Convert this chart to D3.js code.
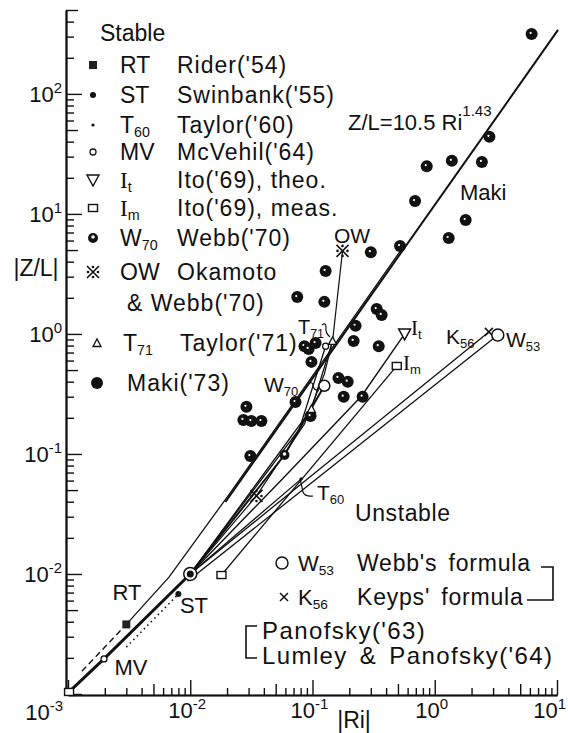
<!DOCTYPE html>
<html>
<head>
<meta charset="utf-8">
<script src="https://cdn.jsdelivr.net/npm/d3@7"></script>
<style>
  body { margin: 0; background: #fff; }
  svg text { font-family: "Liberation Sans", Arial, sans-serif; fill: #111; }
</style>
</head>
<body>
<div id="chart"></div>
<script>
// ---- data (Ri, |Z/L|) ----
const makiRi = [6.2, 2.8, 0.86, 1.38, 2.43, 0.69, 1.79, 1.3, 0.52, 0.30, 0.128, 0.075, 0.125, 0.335, 0.368,
  0.225, 0.217, 0.348, 0.086, 0.106, 0.093, 0.098, 0.163, 0.194, 0.18, 0.257, 0.0726, 0.0964,
  0.0288, 0.0272, 0.0316, 0.0382, 0.031];
const makiZL = [316, 43.9, 25, 27.7, 27.1, 12.8, 8.9, 6.3, 5.4, 4.8, 3.35, 2.03, 1.85, 1.61, 1.44,
  1.17, 0.875, 0.79, 0.79, 0.84, 0.75, 0.585, 0.43, 0.40, 0.30, 0.30, 0.271, 0.207,
  0.247, 0.192, 0.188, 0.188, 0.096];

// Z/L = 10.5 Ri^1.43 fit, end points
const fitRi = [0.0194, 10.2];
const fitZL = [0.0398, 341];

const rtDashRi = [0.0013, 0.003];
const rtDashZL = [0.00155, 0.0038];
const rtRi = [0.003, 0.0067, 0.0211, 0.537];
const rtZL = [0.0038, 0.0094, 0.047, 5.1];
const neutralRi = [0.00102, 0.00197, 0.01];
const neutralZL = [0.00104, 0.00196, 0.01];
const stRi = [0.003, 0.008];
const stZL = [0.00246, 0.0068];
const w70Ri = [0.01, 0.059, 0.125];
const w70ZL = [0.01, 0.098, 0.37];
const t71Ri = [0.01, 0.098, 0.146];
const t71ZL = [0.01, 0.237, 0.875];
const mvRi = [0.01, 0.078, 0.128];
const mvZL = [0.01, 0.161, 0.79];
const owRi = [0.01, 0.0348, 0.086, 0.125, 0.146, 0.176];
const owZL = [0.01, 0.0447, 0.178, 0.464, 0.875, 4.92];
const itRi = [0.01, 0.0537, 0.252, 0.567];
const itZL = [0.01, 0.0585, 0.304, 1.0];
const imRi = [0.018, 0.489];
const imZL = [0.0098, 0.541];
const k56Ri = [0.01, 2.77];
const k56ZL = [0.01, 1.04];
const w53Ri = [0.0095, 3.28];
const w53ZL = [0.0087, 0.98];
const t60Ri = [0.01, 0.081];
const t60ZL = [0.01, 0.062];

// single marks on the curves: [Ri, Z/L, kind]
const marks = [
  [0.003, 0.0038, 'rt'], [0.00197, 0.00196, 'mv'], [0.00102, 0.00104, 'im'],
  [0.01, 0.01, 'stc'], [0.008, 0.0068, 'st'],
  [0.018, 0.0098, 'im'], [0.489, 0.541, 'im'], [0.567, 1.0, 'it'],
  [2.77, 1.04, 'k56'], [3.28, 0.98, 'w53'],
  [0.176, 4.92, 'ow'], [0.0348, 0.0447, 'ow'],
  [0.146, 0.875, 't71'], [0.098, 0.237, 't71'], [0.128, 0.79, 'mv'],
  [0.125, 0.37, 'w70open'], [0.059, 0.098, 'w70'], [0.081, 0.062, 't60']
];

const xTickExp = ['-3', '-2', '-1', '0', '1'];
const yTickExp = ['-3', '-2', '-1', '0', '1', '2'];

const legendCodes = ['RT', 'ST', 'T|60', 'MV', 'I|t', 'I|m', 'W|70', 'OW', '', 'T|71', ''];
const legendNames = ["Rider('54)", "Swinbank('55)", "Taylor('60)", "McVehil('64)", "Ito('69), theo.",
  "Ito('69), meas.", "Webb('70)", 'Okamoto', "& Webb('70)", "Taylor('71)", "Maki('73)"];
const legendKinds = ['rt', 'st', 't60', 'mv', 'it', 'im', 'w70', 'ow', null, 't71', 'maki'];

// ---- setup ----
const W = 568, H = 733;
const svg = d3.select('#chart').append('svg')
  .attr('width', W).attr('height', H);

const x = d3.scaleLog().domain([1e-3, 1e1]).range([68, 557]);
const y = d3.scaleLog().domain([1e-3, 5e2]).range([694, 10]);

const xMajor = xTickExp.map(e => Math.pow(10, +e));
const yMajor = yTickExp.map(e => Math.pow(10, +e));
const minorOf = (majors, top) => majors.flatMap(m => [2, 3, 4, 6, 7, 8, 9].map(k => k * m)).filter(v => v < top);
const fiveOf = (majors, top) => majors.map(m => 5 * m).filter(v => v <= top);

// axes: ticks point inwards
function axisGroup(axis, transform) {
  const g = svg.append('g').attr('transform', transform).call(axis);
  g.selectAll('line').attr('stroke', '#111').attr('stroke-width', 1.4);
  g.select('.domain').attr('stroke', '#111').attr('stroke-width', 1.6);
  return g;
}
axisGroup(d3.axisRight(y).tickValues(yMajor).tickSize(16).tickSizeOuter(0).tickFormat(''), 'translate(66,0)');
axisGroup(d3.axisRight(y).tickValues(fiveOf(yMajor, 500)).tickSize(12).tickSizeOuter(0).tickFormat(''), 'translate(66,0)');
axisGroup(d3.axisRight(y).tickValues(minorOf(yMajor, 500)).tickSize(8).tickSizeOuter(0).tickFormat(''), 'translate(66,0)');
axisGroup(d3.axisTop(x).tickValues(xMajor).tickSize(15).tickSizeOuter(0).tickFormat(''), 'translate(0,695)');
axisGroup(d3.axisTop(x).tickValues(fiveOf(xMajor, 10)).tickSize(11).tickSizeOuter(0).tickFormat(''), 'translate(0,695)');
axisGroup(d3.axisTop(x).tickValues(minorOf(xMajor, 10)).tickSize(7).tickSizeOuter(0).tickFormat(''), 'translate(0,695)');

// tick labels as 10^n
function power(g, px, py, exp, anchor) {
  const t = g.append('text').attr('x', px).attr('y', py).attr('text-anchor', anchor)
    .style('font-size', '22px');
  t.append('tspan').text('10');
  t.append('tspan').attr('dy', -9).style('font-size', '15px').text(exp);
}
const lab = svg.append('g');
yMajor.forEach((v, i) => { if (i > 0) power(lab, 62, y(v) + 8, yTickExp[i], 'end'); });
xMajor.forEach((v, i) => {
  if (i === 0) power(lab, 63, 720, xTickExp[i], 'end');
  else if (i === xMajor.length - 1) power(lab, 566, 718, xTickExp[i], 'end');
  else power(lab, x(v) - 3, 718, xTickExp[i], 'middle');
});

svg.append('text').attr('x', 36).attr('y', 276).attr('text-anchor', 'middle')
  .style('font-size', '23px').text('|Z/L|');
svg.append('text').attr('x', 354).attr('y', 728).attr('text-anchor', 'middle')
  .style('font-size', '23px').text('|Ri|');

// ---- curves ----
const line = d3.line().x(d => x(d[0])).y(d => y(d[1]));
const zip = (a, b) => a.map((v, i) => [v, b[i]]);
const curves = [
  { d: zip(fitRi, fitZL), w: 2 },
  { d: zip(rtDashRi, rtDashZL), w: 1.4, dash: '6,4' },
  { d: zip(rtRi, rtZL), w: 1.3 },
  { d: zip(neutralRi, neutralZL), w: 3 },
  { d: zip(stRi, stZL), w: 1.6, dash: '1.5,3.5' },
  { d: zip(w70Ri, w70ZL), w: 2 },
  { d: zip(t71Ri, t71ZL), w: 1.3 },
  { d: zip(mvRi, mvZL), w: 1.3 },
  { d: zip(owRi, owZL), w: 1.2 },
  { d: zip(itRi, itZL), w: 1.4 },
  { d: zip(imRi, imZL), w: 1.3 },
  { d: zip(k56Ri, k56ZL), w: 1.3 },
  { d: zip(w53Ri, w53ZL), w: 1.3 },
  { d: zip(t60Ri, t60ZL), w: 1.3 }
];
svg.append('g').selectAll('path').data(curves).join('path')
  .attr('d', c => line(c.d))
  .attr('fill', 'none').attr('stroke', '#111')
  .attr('stroke-width', c => c.w)
  .attr('stroke-dasharray', c => c.dash || null);

// ---- markers ----
function mark(g, kind, cx, cy) {
  const s = g.append('g').attr('transform', `translate(${cx},${cy})`);
  const ink = '#111';
  switch (kind) {
    case 'rt': s.append('rect').attr('x', -4).attr('y', -4).attr('width', 8).attr('height', 8).attr('fill', '#222'); break;
    case 'st': s.append('circle').attr('r', 3).attr('fill', ink); break;
    case 't60': s.append('circle').attr('r', 1.6).attr('fill', ink); break;
    case 'mv': s.append('circle').attr('r', 3).attr('fill', '#fff').attr('stroke', ink).attr('stroke-width', 1.3); break;
    case 'it': s.append('path').attr('d', 'M-6,-5L6,-5L0,6Z').attr('fill', '#fff').attr('stroke', ink).attr('stroke-width', 1.4); break;
    case 'im': s.append('rect').attr('x', -4.5).attr('y', -3.5).attr('width', 9).attr('height', 7).attr('fill', '#fff').attr('stroke', ink).attr('stroke-width', 1.4); break;
    case 'w70':
      s.append('circle').attr('r', 5).attr('fill', ink);
      s.append('circle').attr('r', 1.8).attr('cy', -1).attr('fill', '#fff'); break;
    case 'w70open': s.append('circle').attr('r', 5.5).attr('fill', '#fff').attr('stroke', ink).attr('stroke-width', 1.5); break;
    case 'w53': s.append('circle').attr('r', 6).attr('fill', '#fff').attr('stroke', ink).attr('stroke-width', 1.5); break;
    case 'k56': s.append('path').attr('d', 'M-4,-4L4,4M-4,4L4,-4').attr('stroke', ink).attr('stroke-width', 1.5); break;
    case 't71': s.append('path').attr('d', 'M-4,3.5L4,3.5L0,-4Z').attr('fill', '#fff').attr('stroke', ink).attr('stroke-width', 1.3); break;
    case 'maki': s.append('circle').attr('r', 6).attr('fill', ink); break;
    case 'stc':
      s.append('circle').attr('r', 6.5).attr('fill', '#fff').attr('stroke', ink).attr('stroke-width', 1.5);
      s.append('circle').attr('r', 3.5).attr('fill', ink); break;
    case 'ow':
      s.append('path').attr('d', 'M-6,-6L6,6M-6,6L6,-6').attr('stroke', ink).attr('stroke-width', 1.6);
      [[0, -5], [0, 5], [-5, 0], [5, 0]].forEach(p => s.append('circle').attr('cx', p[0]).attr('cy', p[1]).attr('r', 1.3).attr('fill', ink));
      break;
  }
}
const mg = svg.append('g');
zip(makiRi, makiZL).forEach(p => {
  mark(mg, 'maki', x(p[0]), y(p[1]));
  mg.append('circle').attr('cx', x(p[0]) - 1).attr('cy', y(p[1]) - 1).attr('r', 1.1).attr('fill', '#fff');
});
marks.forEach(m => mark(mg, m[2], x(m[0]), y(m[1])));

// ---- texts in the plot ----
function sub(g, px, py, main, s, size, serif) {
  const t = g.append('text').attr('x', px).attr('y', py).style('font-size', size + 'px');
  const a = t.append('tspan').text(main);
  if (serif) a.style('font-family', '"Liberation Serif", serif');
  if (s) t.append('tspan').attr('dy', 4).style('font-size', (size * 0.62) + 'px').text(s);
  return t;
}
const tg = svg.append('g');
tg.append('text').attr('x', 100).attr('y', 41).style('font-size', '23px').text('Stable');
const rowY = [65, 95, 125, 152, 180, 208, 238, 272, 303, 343, 383];
legendNames.forEach((n, i) => {
  const yy = rowY[i];
  if (legendKinds[i]) mark(tg, legendKinds[i], i >= 9 ? 97 : 93, yy);
  const code = legendCodes[i];
  if (code) {
    const parts = code.split('|');
    sub(tg, i === 9 ? 123 : 120, yy + 8, parts[0], parts[1], 23, parts[0] === 'I');
  }
  const nx = i === 8 ? 127 : (i === 10 ? 127 : (i === 9 ? 180 : 177));
  tg.append('text').attr('x', nx).attr('y', yy + 8).style('font-size', '23px')
    .style('letter-spacing', '1px').text(n);
});

const eq = tg.append('text').attr('x', 348).attr('y', 130).style('font-size', '22px');
eq.append('tspan').text('Z/L=10.5 Ri');
eq.append('tspan').attr('dy', -14).style('font-size', '15px').text('1.43');

tg.append('text').attr('x', 460).attr('y', 200).style('font-size', '22px').text('Maki');
tg.append('text').attr('x', 334).attr('y', 243).style('font-size', '21px').text('OW');
sub(tg, 298, 334, 'T', '71', 20);
sub(tg, 264, 392, 'W', '70', 21);
sub(tg, 411, 335, 'I', 't', 21, true);
sub(tg, 403, 370, 'I', 'm', 21, true);
sub(tg, 446, 344, 'K', '56', 21);
sub(tg, 506, 347, 'W', '53', 21);
sub(tg, 317, 500, 'T', '60', 21);
tg.append('text').attr('x', 355).attr('y', 521).style('font-size', '23px')
  .style('letter-spacing', '0.6px').text('Unstable');
tg.append('text').attr('x', 127).attr('y', 600).style('font-size', '22px').text('RT').attr('text-anchor', 'middle');
tg.append('text').attr('x', 194).attr('y', 613).style('font-size', '22px').text('ST').attr('text-anchor', 'middle');
tg.append('text').attr('x', 131).attr('y', 675).style('font-size', '22px').text('MV').attr('text-anchor', 'middle');

// little pointer hooks
const hook = 'fill:none;stroke:#111;stroke-width:1.2';
tg.append('path').attr('d', 'M300,478 L303,492 Q305,497 313,496').attr('style', hook);
tg.append('path').attr('d', 'M322,325 q4,-3 4,2 q-1,6 4,10').attr('style', hook);
tg.append('path').attr('d', 'M308,384 q4,-3 5,1 q0,5 6,6').attr('style', hook);

// unstable legend
const wide = { 'font-size': '23px', 'letter-spacing': '0.8px', 'word-spacing': '4px' };
function wideText(px, py, s, opts) {
  const t = tg.append('text').attr('x', px).attr('y', py).text(s);
  Object.entries(opts).forEach(([k, v]) => t.style(k, v));
  return t;
}
mark(tg, 'w53', 282, 563);
sub(tg, 298, 571, 'W', '53', 22);
wideText(357, 571, "Webb's formula", wide);
mark(tg, 'k56', 284, 597);
sub(tg, 298, 605, 'K', '56', 22);
wideText(357, 605, "Keyps' formula", wide);
tg.append('path').attr('d', 'M541,567 L553,567 L553,600 L527,600').attr('style', 'fill:none;stroke:#111;stroke-width:1.6');
tg.append('path').attr('d', 'M257,626 L246,626 L246,658 L257,658').attr('style', 'fill:none;stroke:#111;stroke-width:1.6');
const pano = { 'font-size': '24px', 'letter-spacing': '1.4px', 'word-spacing': '4px' };
wideText(262, 639, "Panofsky('63)", pano);
wideText(262, 664, "Lumley & Panofsky('64)", pano);
</script>
</body>
</html>
